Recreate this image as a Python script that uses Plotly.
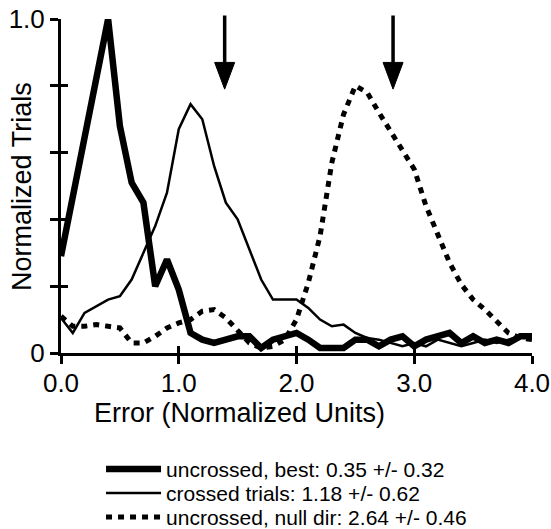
import plotly.graph_objects as go

# Error bins (normalized units)
error = [round(0.1 * i, 1) for i in range(41)]

uncrossed_best = [
    0.29, 0.47, 0.65, 0.83, 1.00, 0.68, 0.51, 0.45, 0.20, 0.28,
    0.19, 0.06, 0.04, 0.03, 0.04, 0.05, 0.05, 0.015, 0.04, 0.05,
    0.06, 0.04, 0.015, 0.015, 0.015, 0.04, 0.04, 0.02, 0.04, 0.05,
    0.02, 0.04, 0.05, 0.06, 0.03, 0.05, 0.03, 0.04, 0.03, 0.05, 0.05,
]
crossed_trials = [
    0.105, 0.06, 0.12, 0.14, 0.16, 0.17, 0.22, 0.30, 0.38, 0.48,
    0.67, 0.745, 0.70, 0.56, 0.45, 0.40, 0.31, 0.22, 0.16, 0.16,
    0.16, 0.135, 0.10, 0.08, 0.085, 0.06, 0.045, 0.04, 0.03, 0.02,
    0.03, 0.02, 0.04, 0.03, 0.02, 0.03, 0.04, 0.03, 0.04, 0.05, 0.05,
]
uncrossed_null = [
    0.11, 0.08, 0.08, 0.085, 0.08, 0.075, 0.03, 0.03, 0.05, 0.075,
    0.09, 0.10, 0.125, 0.13, 0.105, 0.065, 0.03, 0.015, 0.02, 0.04,
    0.10, 0.21, 0.35, 0.57, 0.715, 0.80, 0.78, 0.72, 0.665, 0.61,
    0.55, 0.44, 0.355, 0.27, 0.205, 0.16, 0.13, 0.095, 0.06, 0.045, 0.04,
]

series_names = [
    "uncrossed, best: 0.35 +/- 0.32",
    "crossed trials: 1.18 +/- 0.62",
    "uncrossed, null dir: 2.64 +/- 0.46",
]

x_ticks = [0.0, 1.0, 2.0, 3.0, 4.0]
x_tick_labels = ["0.0", "1.0", "2.0", "3.0", "4.0"]
y_ticks = [0.0, 0.2, 0.4, 0.6, 0.8, 1.0]
y_tick_labels = ["0", "", "", "", "", "1.0"]

# Downward arrows marking positions on the error axis
arrow_x = [1.39, 2.82]

FONT = "Liberation Sans, Arial, Helvetica, sans-serif"
INK = "black"

fig = go.Figure()

fig.add_trace(go.Scatter(x=error, y=uncrossed_best, mode="lines", name=series_names[0],
                         line=dict(color=INK, width=6.5), legend="legend"))
fig.add_trace(go.Scatter(x=error, y=crossed_trials, mode="lines", name=series_names[1],
                         line=dict(color=INK, width=2.5), legend="legend2"))
fig.add_trace(go.Scatter(x=error, y=uncrossed_null, mode="lines", name=series_names[2],
                         line=dict(color=INK, width=5, dash="6px,6px"), legend="legend3"))

# invisible trace that puts the overlay axes (inner tick halves) on the page
fig.add_trace(go.Scatter(x=error, y=uncrossed_best, mode="lines", xaxis="x2", yaxis="y2",
                         line=dict(width=0), opacity=0, showlegend=False, hoverinfo="skip"))

# arrows: shaft as an annotation, head as a filled triangle
head_top, head_tip, head_half = 0.87, 0.79, 0.085
for ax_pos in arrow_x:
    fig.add_annotation(x=ax_pos, y=head_top, ax=ax_pos, ay=1.015, xref="x", yref="y",
                       axref="x", ayref="y", showarrow=True, arrowhead=0,
                       arrowwidth=3.5, arrowcolor=INK, text="")
    fig.add_shape(type="path", xref="x", yref="y",
                  path=f"M {ax_pos - head_half},{head_top} L {ax_pos + head_half},{head_top} "
                       f"L {ax_pos},{head_tip} Z",
                  fillcolor=INK, line=dict(color=INK, width=1))

# axis titles
fig.add_annotation(text="Error (Normalized Units)", xref="paper", yref="paper",
                   x=0.38, y=-0.18, xanchor="center", yanchor="middle", showarrow=False,
                   font=dict(family=FONT, size=27, color=INK))
fig.add_annotation(text="Normalized Trials", xref="paper", yref="paper",
                   x=-0.083, y=0.5, xanchor="center", yanchor="middle", showarrow=False,
                   textangle=-90, font=dict(family=FONT, size=27, color=INK))

axis_common = dict(showgrid=False, zeroline=False, tickcolor=INK, tickwidth=3)

legend_common = dict(x=0.085, xanchor="left", yanchor="top", itemwidth=55,
                     font=dict(family=FONT, size=21, color=INK), bgcolor="rgba(0,0,0,0)")

fig.update_layout(
    width=551, height=529,
    margin=dict(l=61, r=19, t=19, b=176, autoexpand=False),
    paper_bgcolor="white", plot_bgcolor="white",
    font=dict(family=FONT, size=25, color=INK),
    xaxis=dict(range=[0, 4], tickvals=x_ticks, ticktext=x_tick_labels,
               ticks="outside", ticklen=8, showline=True, linecolor=INK, linewidth=3,
               ticklabelstandoff=-3, tickfont=dict(size=26), **axis_common),
    yaxis=dict(range=[0, 1], tickvals=y_ticks, ticktext=y_tick_labels,
               ticks="outside", ticklen=8, showline=True, linecolor=INK, linewidth=3,
               tickfont=dict(size=26), **axis_common),
    xaxis2=dict(range=[0, 4], overlaying="x", anchor="y", side="bottom", tickvals=x_ticks,
                ticks="inside", ticklen=7, showticklabels=False, showline=False, **axis_common),
    yaxis2=dict(range=[0, 1], overlaying="y", anchor="x", side="left", tickvals=y_ticks,
                ticks="inside", ticklen=7, showticklabels=False, showline=False, **axis_common),
    legend=dict(y=-0.287, **legend_common),
    legend2=dict(y=-0.359, **legend_common),
    legend3=dict(y=-0.431, **legend_common),
    showlegend=True,
)

fig.write_html("out.html")
